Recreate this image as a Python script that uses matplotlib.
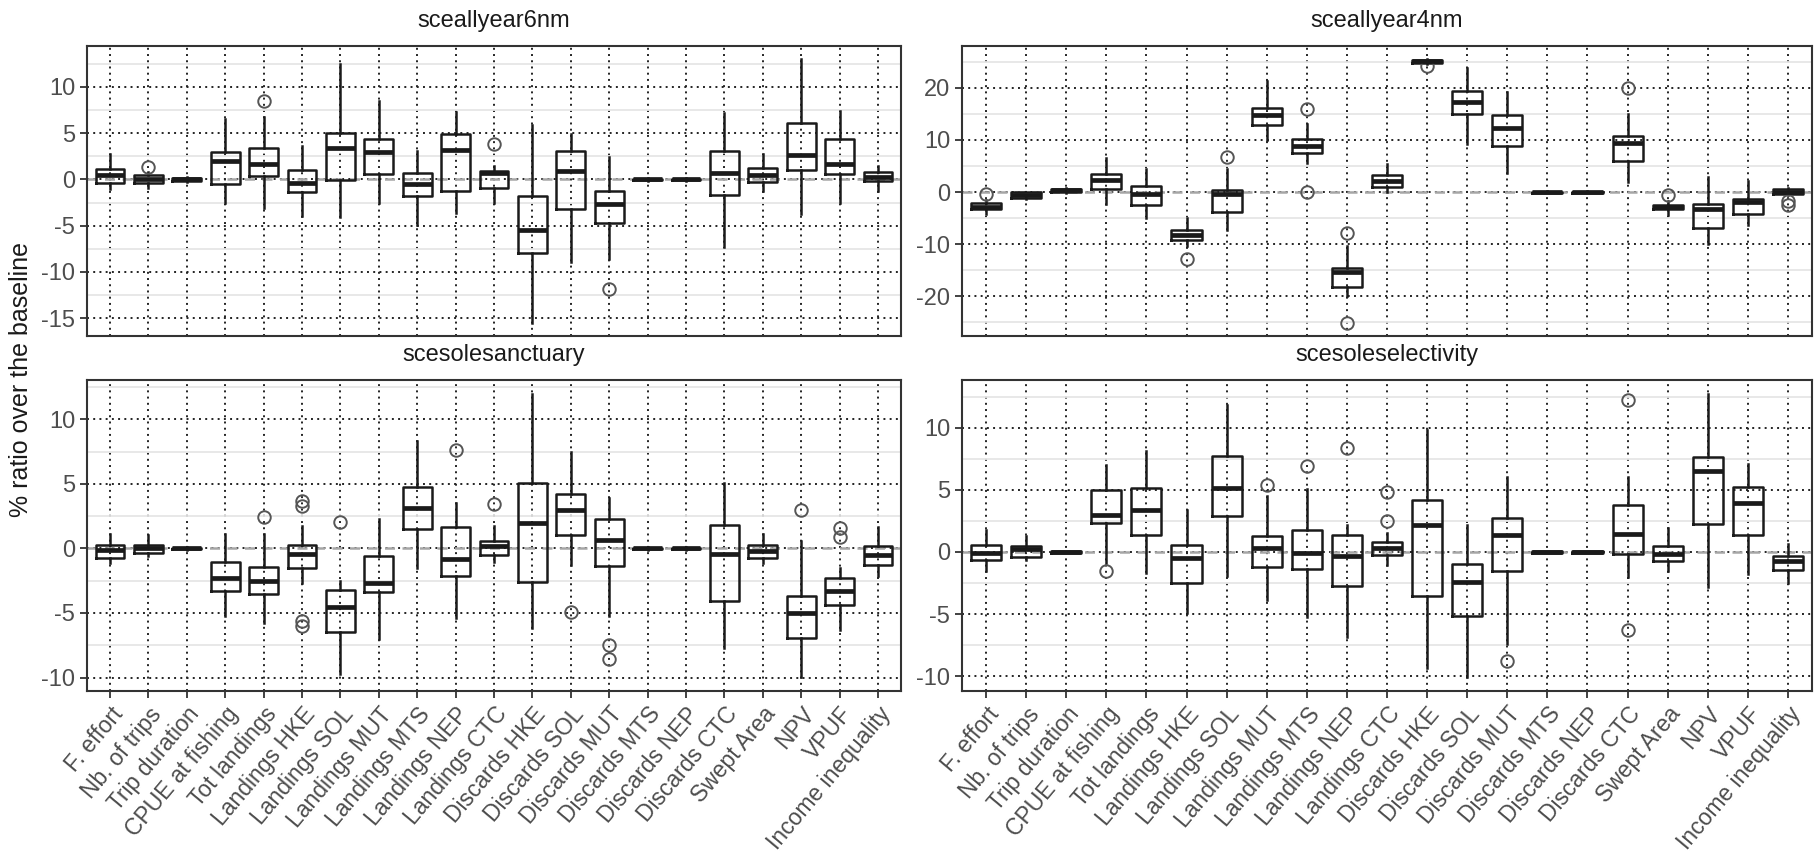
import numpy as np
import matplotlib.pyplot as plt
from matplotlib.ticker import MultipleLocator

plt.rcParams['font.family'] = ['Liberation Sans', 'DejaVu Sans']
plt.rcParams['axes.unicode_minus'] = False

indicators = ['F. effort', 'Nb. of trips', 'Trip duration', 'CPUE at fishing',
              'Tot landings', 'Landings HKE', 'Landings SOL', 'Landings MUT',
              'Landings MTS', 'Landings NEP', 'Landings CTC', 'Discards HKE',
              'Discards SOL', 'Discards MUT', 'Discards MTS', 'Discards NEP',
              'Discards CTC', 'Swept Area', 'NPV', 'VPUF', 'Income inequality']

# --- sceallyear6nm ---
s6_low = [-1.0, -0.9, -0.3, -2.5, -3.1, -4.0, -4.1, -2.6, -4.9, -3.6, -2.5,
          -15.5, -8.9, -8.65, -0.15, -0.15, -7.3, -1.25, -3.75, -2.5, -1.3]
s6_q1 = [-0.35, -0.4, -0.12, -0.5, 0.35, -1.4, -0.1, 0.55, -1.8, -1.25, -0.9,
         -7.9, -3.2, -4.7, -0.08, -0.08, -1.7, -0.25, 1.0, 0.55, -0.18]
s6_med = [0.45, 0.1, 0.0, 1.95, 1.7, -0.35, 3.4, 3.0, -0.5, 3.15, 0.7,
          -5.5, 0.9, -2.7, 0.0, 0.0, 0.65, 0.45, 2.65, 1.7, 0.28]
s6_q3 = [1.1, 0.45, 0.12, 3.0, 3.4, 1.0, 5.05, 4.4, 0.7, 4.95, 0.9,
         -1.75, 3.1, -1.25, 0.08, 0.08, 3.1, 1.25, 6.05, 4.35, 0.8]
s6_high = [2.7, 0.8, 0.3, 6.5, 6.7, 3.6, 12.45, 8.5, 3.1, 7.3, 1.4,
           5.9, 4.9, 2.45, 0.15, 0.15, 7.2, 2.8, 13.0, 7.45, 1.5]
s6_out = [[], [1.3], [], [], [8.5], [], [], [], [], [], [3.85],
          [], [], [-11.8], [], [], [], [], [], [], []]

# --- sceallyear4nm ---
s4_low = [-4.3, -1.3, -0.1, -2.2, -4.95, -10.35, -7.2, 10.0, 5.5, -19.9, 0.0,
          24.6, 9.3, 3.75, -0.2, -0.2, 2.0, -4.5, -9.9, -6.35, -0.5]
s4_q1 = [-3.35, -1.15, 0.05, 0.65, -2.4, -9.2, -3.8, 12.8, 7.4, -18.2, 1.0,
         24.8, 15.05, 8.9, -0.1, -0.1, 6.0, -3.35, -6.85, -4.3, -0.3]
s4_med = [-2.85, -0.65, 0.3, 2.35, -0.4, -8.3, -0.4, 14.7, 8.9, -15.4, 2.2,
          25.1, 17.3, 12.3, 0.0, 0.0, 9.35, -2.85, -3.35, -1.95, 0.1]
s4_q3 = [-2.1, -0.05, 0.65, 3.5, 1.1, -7.2, 0.45, 16.2, 10.1, -14.5, 3.2,
         25.3, 19.35, 14.7, 0.1, 0.1, 10.8, -2.4, -2.3, -1.35, 0.5]
s4_high = [-1.6, 0.1, 0.8, 6.5, 4.4, -4.95, 4.45, 21.3, 13.1, -10.35, 5.3,
           25.5, 23.9, 19.2, 0.2, 0.2, 15.05, -1.8, 2.85, 2.15, 0.7]
s4_out = [[-0.4], [], [], [], [], [-12.9], [6.65], [], [16.0, 0.0], [-7.9, -25.1], [],
          [24.2], [], [], [], [], [19.9], [-0.5], [], [], [-1.65, -2.55]]

# --- scesolesanctuary ---
ss_low = [-1.15, -0.6, -0.1, -5.25, -5.8, -2.65, -9.75, -7.0, -1.55, -5.4, -1.05,
          -6.15, -1.3, -5.25, -0.1, -0.1, -7.7, -1.15, -9.95, -6.3, -2.16]
ss_q1 = [-0.75, -0.38, -0.05, -3.3, -3.5, -1.55, -6.5, -3.4, 1.5, -2.1, -0.5,
         -2.6, 1.05, -1.35, -0.05, -0.05, -4.05, -0.75, -6.94, -4.4, -1.28]
ss_med = [-0.15, 0.0, 0.0, -2.3, -2.5, -0.4, -4.55, -2.65, 3.15, -0.8, 0.2,
          2.0, 3.0, 0.65, 0.0, 0.0, -0.45, -0.2, -5.03, -3.33, -0.52]
ss_q3 = [0.3, 0.27, 0.05, -1.05, -1.45, 0.27, -3.25, -0.6, 4.75, 1.65, 0.57,
         5.05, 4.25, 2.25, 0.05, 0.05, 1.85, 0.27, -3.66, -2.3, 0.16]
ss_high = [1.1, 1.05, 0.1, 1.15, 1.15, 1.7, -2.5, 2.25, 8.3, 3.5, 1.7,
           11.95, 7.45, 3.9, 0.1, 0.1, 5.05, 1.1, 0.57, -1.53, 1.67]
ss_out = [[], [], [], [], [2.4], [3.3, 3.7, -5.6, -6.0], [2.05], [], [], [7.65], [3.45],
          [], [-4.9], [-7.5, -8.55], [], [], [], [], [2.95], [1.6, 0.9], []]

# --- scesoleselectivity ---
se_low = [-1.5, -0.65, -0.1, -0.85, -1.7, -4.9, -1.9, -3.9, -5.2, -6.85, -1.05,
          -9.35, -10.05, -7.4, -0.1, -0.1, -2.05, -1.55, -2.85, -1.75, -2.5]
se_q1 = [-0.68, -0.4, -0.05, 2.35, 1.35, -2.5, 2.9, -1.2, -1.4, -2.75, -0.25,
         -3.55, -5.15, -1.5, -0.05, -0.05, -0.2, -0.7, 2.25, 1.35, -1.45]
se_med = [-0.05, 0.23, 0.0, 2.95, 3.35, -0.5, 5.15, 0.3, -0.05, -0.35, 0.35,
          2.2, -2.4, 1.35, 0.0, 0.0, 1.45, -0.15, 6.55, 3.9, -0.75]
se_q3 = [0.57, 0.5, 0.05, 5.0, 5.15, 0.57, 7.7, 1.3, 1.75, 1.35, 0.8,
         4.2, -0.95, 2.7, 0.05, 0.05, 3.8, 0.5, 7.65, 5.2, -0.35]
se_high = [1.8, 1.3, 0.1, 7.0, 8.15, 3.35, 11.8, 4.5, 5.1, 2.2, 1.5,
           9.8, 2.2, 6.0, 0.1, 0.1, 6.0, 1.9, 12.7, 7.05, 0.65]
se_out = [[], [], [], [-1.5], [], [], [], [5.4], [6.9], [8.4], [4.85, 2.5],
          [], [], [-8.75], [], [], [12.2, -6.3], [], [], [], []]

W, H = 1816, 866
fig = plt.figure(figsize=(W / 100, H / 100), dpi=100)

x_left = [87 / W, 962 / W]
x_right = [901 / W, 1812 / W]
y_top = [46 / H, 380 / H]
y_bot = [336 / H, 691 / H]

grid_dots = (0, (1, 2.2))


def draw_panel(col, row, title, low, q1, med, q3, high, out, major):
    l, r = x_left[col], x_right[col]
    b, t = 1 - y_bot[row], 1 - y_top[row]
    ax = fig.add_axes([l, b, r - l, t - b])
    pos = np.arange(1, len(indicators) + 1)

    stats = []
    for i in range(len(indicators)):
        stats.append(dict(whislo=low[i], q1=q1[i], med=med[i], q3=q3[i],
                          whishi=high[i], fliers=out[i]))

    ax.axhline(0, color='#a6a6a6', lw=1.8, linestyle=(0, (4, 3)), zorder=1.5)
    ax.bxp(stats, positions=pos, widths=0.75, showcaps=False, manage_ticks=False,
           boxprops=dict(color='#1a1a1a', lw=1.8),
           whiskerprops=dict(color='#1a1a1a', lw=1.8),
           medianprops=dict(color='#1a1a1a', lw=3.4, solid_capstyle='butt'),
           flierprops=dict(marker='o', markerfacecolor='none',
                           markeredgecolor='#555555', markersize=9,
                           markeredgewidth=1.4))

    vals = low + high + [v for o in out for v in o]
    lo, hi = min(vals), max(vals)
    pad = 0.05 * (hi - lo)
    ax.set_ylim(lo - pad, hi + pad)
    ax.set_xlim(0.4, len(indicators) + 0.6)

    ax.yaxis.set_major_locator(MultipleLocator(major))
    ax.yaxis.set_minor_locator(MultipleLocator(major / 2))
    ax.set_xticks(pos)
    ax.set_axisbelow(True)
    ax.grid(which='minor', axis='y', color='#e6e6e6', lw=1.3, linestyle='-')
    ax.grid(which='major', color='#222222', lw=1.4, linestyle=grid_dots)
    ax.tick_params(which='minor', length=0)
    ax.tick_params(axis='y', labelsize=17, labelcolor='#4d4d4d', color='#333333',
                   length=5, width=1.3)

    if row == 1:
        ax.set_xticklabels(indicators, rotation=50, ha='right',
                           rotation_mode='anchor', fontsize=16.5, color='#4d4d4d')
        ax.tick_params(axis='x', color='#333333', length=5, width=1.3)
    else:
        ax.tick_params(axis='x', length=0, labelbottom=False)

    for s in ax.spines.values():
        s.set_color('#333333')
        s.set_linewidth(1.5)

    fig.text((l + r) / 2, t + 0.029, title, ha='center', va='center',
             fontsize=17, color='#1a1a1a')
    return ax


draw_panel(0, 0, 'sceallyear6nm', s6_low, s6_q1, s6_med, s6_q3, s6_high, s6_out, 5)
draw_panel(1, 0, 'sceallyear4nm', s4_low, s4_q1, s4_med, s4_q3, s4_high, s4_out, 10)
draw_panel(0, 1, 'scesolesanctuary', ss_low, ss_q1, ss_med, ss_q3, ss_high, ss_out, 5)
draw_panel(1, 1, 'scesoleselectivity', se_low, se_q1, se_med, se_q3, se_high, se_out, 5)

fig.text(21 / W, 0.562, '% ratio over the baseline', rotation=90,
         ha='center', va='center', fontsize=18, color='#1a1a1a')

fig.savefig('out.png', dpi=100)
